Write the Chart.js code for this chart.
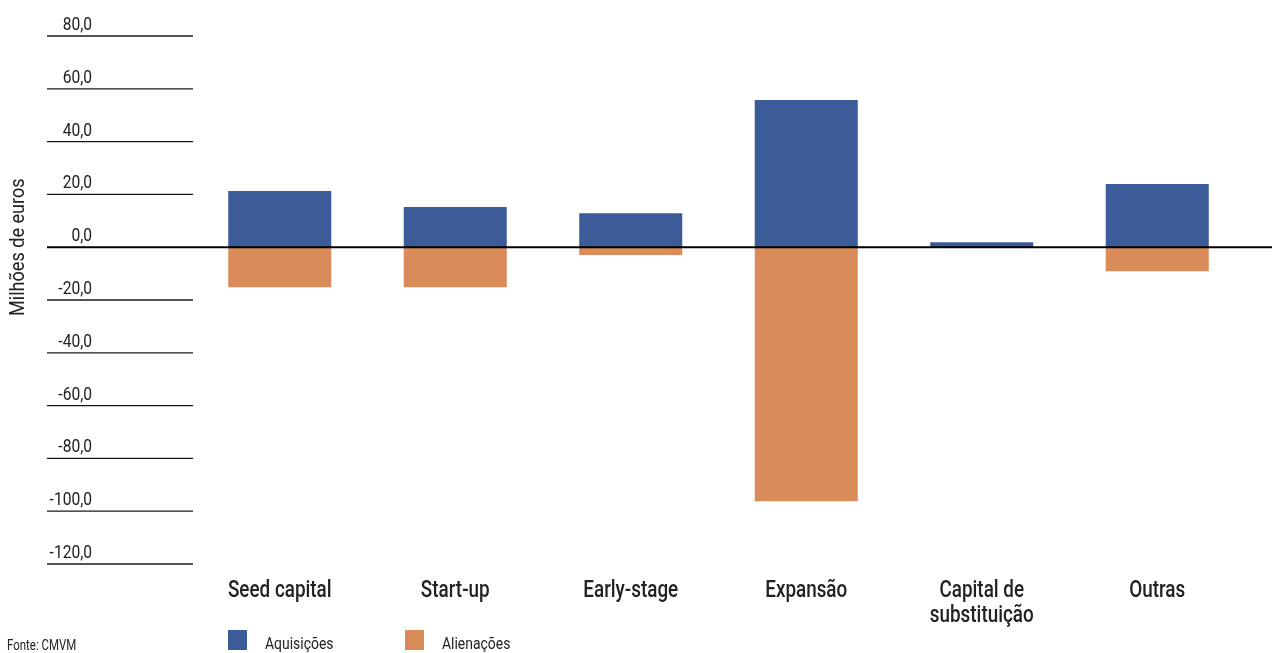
<!DOCTYPE html>
<html>
<head>
<meta charset="utf-8">
<script src="https://cdn.jsdelivr.net/npm/chart.js@4/dist/chart.umd.min.js"></script>
<style>
  html, body { margin: 0; padding: 0; background: #fff; }
  #wrap { width: 1272px; height: 653px; }
</style>
</head>
<body>
<div id="wrap"><canvas id="investimentos"></canvas></div>
<script>
const FONT = 'Roboto, "DejaVu Sans Condensed", sans-serif'
const SX = 0.82 // horizontal squeeze for a condensed look
const BLUE = '#3c5b99'
const ORANGE = '#d98b5a'
const TEXT = '#222'

// Valores em milhões de euros
const categorias = [
  'Seed capital',
  'Start-up',
  'Early-stage',
  'Expansão',
  ['Capital de', 'substituição'],
  'Outras',
]
const aquisicoes = [21.3, 15.2, 12.9, 55.8, 1.9, 23.9]
const alienacoes = [-15.2, -15.2, -3.0, -96.2, 0, -9.1]
const yTicks = [80, 60, 40, 20, 0, -20, -40, -60, -80, -100, -120]
const yTickLabels = yTicks.map(v => v.toFixed(1).replace('.', ','))

function texto(ctx, s, x, y, align, sx = SX) {
  ctx.save()
  ctx.translate(x, y)
  ctx.scale(sx, 1)
  ctx.textAlign = align
  ctx.fillText(s, 0, 0)
  ctx.restore()
}

// Short tick lines with labels, category labels, zero line, legend and source
const decoracoes = {
  id: 'decoracoes',
  beforeDatasetsDraw(chart) {
    const ctx = chart.ctx
    const y = chart.scales.y
    const x = chart.scales.x
    const area = chart.chartArea
    ctx.save()
    ctx.strokeStyle = '#1a1a1a'
    ctx.lineWidth = 1.3
    ctx.fillStyle = TEXT
    ctx.textBaseline = 'alphabetic'
    ctx.font = '19px ' + FONT
    yTicks.forEach((v, i) => {
      const py = y.getPixelForValue(v)
      if (v !== 0) {
        ctx.beginPath()
        ctx.moveTo(47, py)
        ctx.lineTo(area.left + 1, py)
        ctx.stroke()
      }
      texto(ctx, yTickLabels[i], 92, py - 6, 'right')
    })

    // category labels
    ctx.font = '500 23px ' + FONT
    categorias.forEach((c, i) => {
      const px = x.getPixelForValue(i)
      const linhas = Array.isArray(c) ? c : [c]
      linhas.forEach((l, j) => texto(ctx, l, px, area.bottom + 33 + j * 25, 'center'))
    })

    // axis title
    ctx.font = '21px ' + FONT
    ctx.translate(24, y.getPixelForValue(0))
    ctx.rotate(-Math.PI / 2)
    texto(ctx, 'Milhões de euros', 0, 0, 'center', 0.86)
    ctx.restore()
  },
  afterDatasetsDraw(chart) {
    const ctx = chart.ctx
    const py = chart.scales.y.getPixelForValue(0)
    ctx.save()
    ctx.strokeStyle = '#000'
    ctx.lineWidth = 2
    ctx.beginPath()
    ctx.moveTo(47, py)
    ctx.lineTo(chart.width, py)
    ctx.stroke()

    // legend
    ctx.font = '17px ' + FONT
    ctx.textBaseline = 'alphabetic'
    const itens = [
      { x: 228, cor: BLUE, texto: chart.data.datasets[0].label },
      { x: 405, cor: ORANGE, texto: chart.data.datasets[1].label },
    ]
    itens.forEach(it => {
      ctx.fillStyle = it.cor
      ctx.fillRect(it.x, 630, 19, 20)
      ctx.fillStyle = TEXT
      texto(ctx, it.texto, it.x + 37, 649, 'left')
    })
    ctx.font = '15.5px ' + FONT
    texto(ctx, 'Fonte: CMVM', 7, 650, 'left', 0.74)
    ctx.restore()
  },
}

const ctxInvestimentos = document.getElementById('investimentos').getContext('2d')

const dataInvestimentos = {
  labels: categorias,
  datasets: [
    {
      label: 'Aquisições',
      data: aquisicoes,
      backgroundColor: BLUE,
      barPercentage: 0.587,
      categoryPercentage: 1,
    },
    {
      label: 'Alienações',
      data: alienacoes,
      backgroundColor: ORANGE,
      barPercentage: 0.587,
      categoryPercentage: 1,
    },
  ],
}

const configInvestimentos = {
  type: 'bar',
  data: dataInvestimentos,
  plugins: [decoracoes],
  options: {
    responsive: true,
    maintainAspectRatio: false,
    animation: false,
    layout: {
      padding: { left: 192, right: 27, top: 36, bottom: 0 },
    },
    plugins: {
      legend: { display: false },
      tooltip: { enabled: false },
    },
    scales: {
      x: {
        stacked: true,
        grid: { display: false, drawTicks: false },
        border: { display: false },
        ticks: { display: false },
        afterFit: scale => {
          scale.height = 89
        },
      },
      y: {
        stacked: true,
        min: -120,
        max: 80,
        display: false,
      },
    },
  },
}

const investimentosChart = new Chart(ctxInvestimentos, configInvestimentos)
</script>
</body>
</html>
